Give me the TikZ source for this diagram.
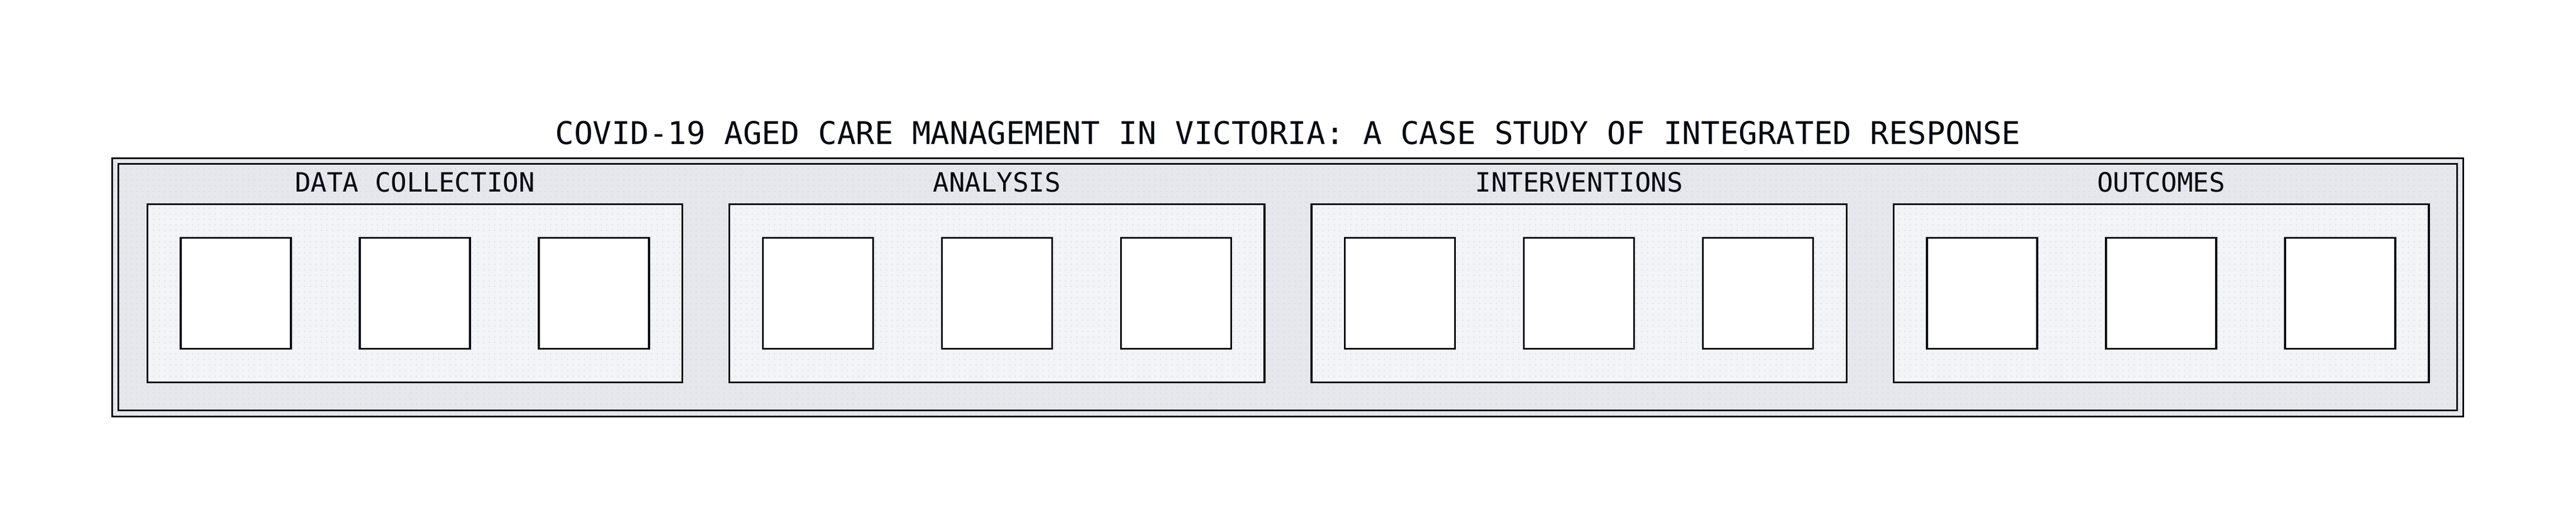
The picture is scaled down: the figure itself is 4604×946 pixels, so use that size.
\documentclass[tikz,border=0pt]{standalone}
\usepackage{fontspec}
\setmonofont{DejaVu Sans Mono}
\usetikzlibrary{patterns.meta}
\definecolor{ink}{HTML}{060912}
\definecolor{outerfill}{HTML}{E6E7EC}
\definecolor{secfill}{HTML}{F3F4F8}
\definecolor{dotc}{HTML}{D4D6DC}
\pgfdeclarelayer{bg}
\pgfdeclarelayer{dotlayer}
\pgfsetlayers{bg,dotlayer,main}
\tikzdeclarepattern{
  name=griddots,
  type=uncolored,
  bottom left={(0cm,0cm)},
  top right={(0.1cm,0.1cm)},
  tile size={(0.1cm,0.1cm)},
  code={\pgfpathrectangle{\pgfpoint{0.04cm}{0.04cm}}{\pgfpoint{0.02cm}{0.02cm}}\pgfusepath{fill}}
}
\tikzset{
  frame/.style={draw=ink, line width=0.034cm, outer sep=0pt, inner sep=0pt},
  secbox/.style={draw=ink, line width=0.034cm, outer sep=0pt, inner sep=0pt, minimum width=9.56cm, minimum height=3.18cm},
  cell/.style={draw=ink, fill=white, line width=0.032cm, outer sep=0pt, inner sep=0pt, minimum width=1.97cm, minimum height=1.98cm},
  titletext/.style={text=ink, font=\ttfamily\fontsize{15.86}{19}\selectfont, inner sep=0pt},
  seclabel/.style={text=ink, font=\ttfamily\fontsize{13.5}{16}\selectfont, inner sep=0pt}
}
\begin{document}
\begin{tikzpicture}[x=0.01cm,y=-0.01cm]
\useasboundingbox (0,0) rectangle (4604,946);
\node[titletext] (title) at (2302,237) {COVID-19 AGED CARE MANAGEMENT IN VICTORIA: A CASE STUDY OF INTEGRATED RESPONSE};
\node[frame, minimum width=41.99cm, minimum height=4.606cm] (outer) at (2301.5,513) {};
\node[frame, minimum width=41.78cm, minimum height=4.396cm] (inner) at (2301.5,512.5) {};
\begin{pgfonlayer}{bg}
  \fill[outerfill] (outer.north west) rectangle (outer.south east);
\end{pgfonlayer}
\foreach \i/\cx/\lab in {1/741.5/DATA COLLECTION, 2/1781.8/ANALYSIS, 3/2822.2/INTERVENTIONS, 4/3862.5/OUTCOMES}{
  \node[secbox] (sec\i) at (\cx,523.5) {};
  \node[seclabel] (lab\i) at (\cx,325) {\lab};
  \foreach \j/\dx in {1/-320,2/0,3/320}{
    \node[cell] (cell\i-\j) at ({\cx+\dx},523.5) {};
  }
  \begin{pgfonlayer}{bg}
    \fill[secfill] (sec\i.north west) rectangle (sec\i.south east);
  \end{pgfonlayer}
}
\begin{pgfonlayer}{dotlayer}
  \fill[pattern=griddots, pattern color=dotc] (outer.north west) rectangle (outer.south east);
\end{pgfonlayer}
\end{tikzpicture}
\end{document}
